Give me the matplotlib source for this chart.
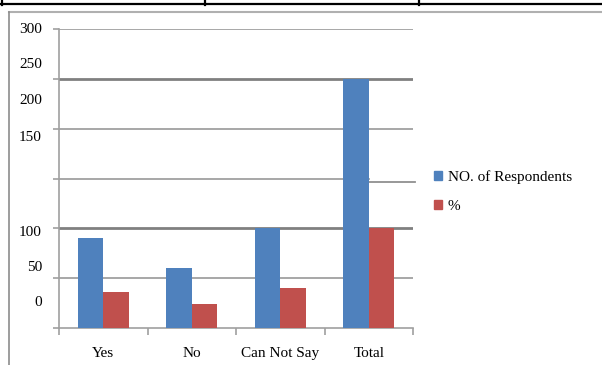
import matplotlib.pyplot as plt
from matplotlib.lines import Line2D
from matplotlib.patches import Patch
import numpy as np

plt.rcParams['font.family'] = ['Liberation Serif', 'DejaVu Serif']
plt.rcParams['font.size'] = 11

categories = ['Yes', 'No', 'Can Not Say', 'Total']
respondents = [90, 60, 100, 250]
percent = [36, 24, 40, 100]
series_names = ['NO. of Respondents', '%']

# axis labels as typed on the sheet, each with the height it sits at
ytick_text = ['300', '250', '200', '150', '100', '50', '0']
ytick_at = [299, 264, 228, 191, 96, 61, 26]

blue = '#4F81BD'
red = '#C0504D'
W, H = 602, 365

fig = plt.figure(figsize=(W / 100, H / 100), dpi=100)
ax = fig.add_axes([59 / W, 37 / H, 354 / W, 299 / H])


def fig_line(xs, ys, **kw):
    # straight line in pixel coordinates (origin top-left)
    fig.add_artist(Line2D([x / W for x in xs], [1 - y / H for y in ys],
                          transform=fig.transFigure, **kw))


# table rule above the chart
fig_line([1, W], [4, 4], color='black', lw=1.6)
for x in [2, 205, 419]:
    fig_line([x, x], [0, 5], color='black', lw=1.6)
# chart area border
fig_line([9, W], [11.5, 11.5], color='#b0b0b0', lw=1.5)
fig_line([9, 9], [11.5, H], color='#8c8c8c', lw=1.2)

x = np.arange(len(categories))
bw = 0.29
ax.bar(x - bw / 2, respondents, bw, color=blue, zorder=3)
ax.bar(x + bw / 2, percent, bw, color=red, zorder=3)

ax.set_xlim(-0.5, len(categories) - 0.5)
ax.set_ylim(0, 300)

# gridlines; 100 and 250 drawn heavier
for v in [50, 200, 300]:
    ax.axhline(v, color='#a0a0a0', lw=1.3, zorder=1)
for v in [100, 250]:
    ax.axhline(v, color='#808080', lw=2.0, zorder=1)
ax.plot([-0.5, 3.0], [150, 150], color='#a0a0a0', lw=1.3, zorder=1)
ax.plot([3.0, 3.52], [146, 146], color='#909090', lw=1.3, zorder=1,
        clip_on=False)

for s in ['top', 'right']:
    ax.spines[s].set_visible(False)
for s in ['left', 'bottom']:
    ax.spines[s].set_color('#a0a0a0')
    ax.spines[s].set_linewidth(1.2)

ax.set_yticks(np.arange(0, 301, 50))
ax.set_yticklabels([])
ax.tick_params(axis='y', length=4, color='#a0a0a0', width=1.2)

ax.set_xticks(x)
ax.set_xticklabels(categories)
ax.set_xticks(np.arange(-0.5, len(categories)), minor=True)
ax.tick_params(axis='x', which='major', length=0, pad=13.5)
ax.tick_params(axis='x', which='minor', length=5, color='#a0a0a0', width=1.2)

for t, v in zip(ytick_text, ytick_at):
    ax.text(-17 / 354, v, t, transform=ax.get_yaxis_transform(),
            ha='right', va='center')

handles = [Patch(color=blue), Patch(color=red)]
fig.legend(handles, series_names, loc='upper left',
           bbox_to_anchor=(434 / W, 1 - 170 / H), frameon=False,
           handlelength=0.55, handleheight=0.55, handletextpad=0.35,
           labelspacing=1.05, borderaxespad=0, borderpad=0)

fig.savefig('out.png', dpi=100)
